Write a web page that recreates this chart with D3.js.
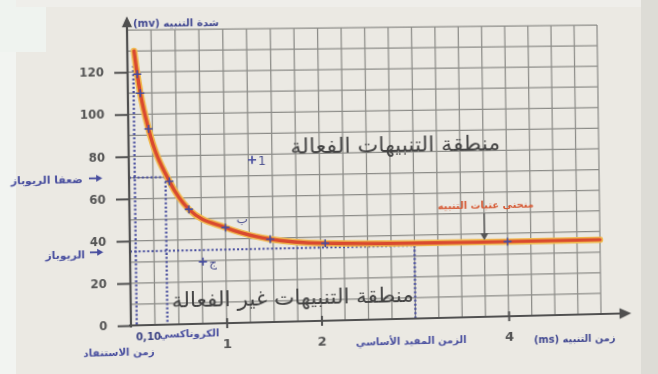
<!DOCTYPE html>
<html>
<head>
<meta charset="utf-8">
<script src="https://cdn.jsdelivr.net/npm/d3@7"></script>
<style>
  html, body { margin: 0; padding: 0; background: #ebe9e3; overflow: hidden; }
  #paper, #chart { position: absolute; left: 0; top: 0; }
  #chart { transform-origin: 0 0; }
  text { font-family: "DejaVu Sans", sans-serif; }
</style>
</head>
<body>
<svg id="paper" width="658" height="374"></svg>
<svg id="chart" width="658" height="374"></svg>
<script>
// ---- data -------------------------------------------------------------
// stimulation threshold curve: duration (ms) -> intensity (mV)
const curveT = [0.07, 0.10, 0.13, 0.21, 0.42, 0.62, 1.00, 1.47, 2.05, 3.00, 4.00, 5.00];
const curveV = [130, 119, 110, 93, 68, 54.5, 45.5, 39.5, 37, 36.2, 36, 36];
// experimental points marked on the curve
const markT = [0.10, 0.13, 0.21, 0.42, 0.62, 1.00, 1.47, 2.05, 4.00];
const markV = [119, 110, 93, 68, 54.5, 45.5, 39.5, 37, 36];
// extra stimulations
const extraT = [1.29, 0.76];
const extraV = [77.5, 29.5];
const extraName = ["1", "ج"];
// characteristic values
const rheobase = 35;
const doubleRheobase = 70;
const chronaxie = 0.38;
const utilTime = 0.06;
const utilTop = 123;
const mainUsefulTime = 3;
// ticks
const yTicks = [0, 20, 40, 60, 80, 100, 120];
const xTicks = [1, 2, 4];

// ---- page background ----------------------------------------------------
const paper = d3.select("#paper");
paper.append("rect").attr("width", 658).attr("height", 374).attr("fill", "#ebe9e3");
paper.append("rect").attr("width", 16).attr("height", 374).attr("fill", "#f2f4f1");
paper.append("rect").attr("width", 46).attr("height", 52).attr("fill", "#eff3ef");
paper.append("rect").attr("x", 16).attr("width", 642).attr("height", 7).attr("fill", "#efeeea");
paper.append("rect").attr("x", 641).attr("width", 17).attr("height", 374).attr("fill", "#dddcd6");

// ---- chart --------------------------------------------------------------
const x = d3.scaleLinear().domain([0, 5]).range([131, 600]);
const y = d3.scaleLinear().domain([0, 140]).range([325, 30]);
const svg = d3.select("#chart");

const blue = "#474d9e";
const gridColor = "#8c8c88";
const axisColor = "#505050";

// grid: 0.25 ms by 10 mV
const grid = svg.append("g");
grid.selectAll("line.v").data(d3.range(1, 21).map(i => i * 0.25)).join("line")
  .attr("class", "v")
  .attr("x1", d => x(d)).attr("x2", d => x(d))
  .attr("y1", y(0)).attr("y2", y(140))
  .attr("stroke", gridColor).attr("stroke-width", 1.25);
grid.selectAll("line.h").data(d3.range(1, 15).map(i => i * 10)).join("line")
  .attr("class", "h")
  .attr("x1", x(0)).attr("x2", x(5))
  .attr("y1", d => y(d)).attr("y2", d => y(d))
  .attr("stroke", gridColor).attr("stroke-width", 1.25);

// dotted reference lines
const dotted = svg.append("g")
  .attr("stroke", blue).attr("stroke-width", 2.2).attr("stroke-dasharray", "2,2.2");
dotted.append("line").attr("x1", x(utilTime)).attr("x2", x(utilTime)).attr("y1", y(utilTop)).attr("y2", y(0));
dotted.append("line").attr("x1", x(0)).attr("x2", x(chronaxie)).attr("y1", y(doubleRheobase)).attr("y2", y(doubleRheobase));
dotted.append("line").attr("x1", x(chronaxie)).attr("x2", x(chronaxie)).attr("y1", y(doubleRheobase)).attr("y2", y(0));
dotted.append("line").attr("x1", x(0)).attr("x2", x(mainUsefulTime)).attr("y1", y(rheobase)).attr("y2", y(rheobase));
dotted.append("line").attr("x1", x(mainUsefulTime)).attr("x2", x(mainUsefulTime)).attr("y1", y(rheobase)).attr("y2", y(0));

// threshold curve
const curveData = curveT.map((t, i) => [t, curveV[i]]);
const line = d3.line().x(d => x(d[0])).y(d => y(d[1])).curve(d3.curveMonotoneX);
svg.append("path").attr("d", line(curveData)).attr("fill", "none")
  .attr("stroke", "#f0b94f").attr("stroke-width", 6.5).attr("stroke-linecap", "round");
svg.append("path").attr("d", line(curveData)).attr("fill", "none")
  .attr("stroke", "#d9492f").attr("stroke-width", 3.4).attr("stroke-linecap", "round");

// crosses
const cross = "M-4,0H4M0,-4V4";
svg.append("g").selectAll("path").data(markT.map((t, i) => [t, markV[i]])).join("path")
  .attr("d", cross).attr("transform", d => `translate(${x(d[0])},${y(d[1])})`)
  .attr("stroke", blue).attr("stroke-width", 1.6).attr("fill", "none");
const extras = svg.append("g").selectAll("g").data(extraT.map((t, i) => [t, extraV[i], extraName[i]])).join("g")
  .attr("transform", d => `translate(${x(d[0])},${y(d[1])})`);
extras.append("path").attr("d", cross).attr("stroke", blue).attr("stroke-width", 1.6).attr("fill", "none");
extras.append("text").attr("x", 6).attr("y", 5).attr("font-size", 12).attr("fill", "#4a4f8e").text(d => d[2]);
// label of the point at 1 ms
svg.append("text").attr("x", x(1.0) + 11).attr("y", y(45.5) - 4)
  .attr("font-size", 12).attr("fill", "#4a4f8e").text("ب");

// axes
const yAxis = d3.axisLeft(y).tickValues(yTicks).tickSize(13).tickPadding(10).tickFormat(d3.format("d"));
const gy = svg.append("g").attr("transform", `translate(${x(0)},0)`).call(yAxis);
const xAxis = d3.axisBottom(x).tickValues(xTicks).tickSize(5).tickPadding(11).tickFormat(d3.format("d"));
const gx = svg.append("g").attr("transform", `translate(0,${y(0)})`).call(xAxis);
[gy, gx].forEach(g => {
  g.select(".domain").remove();
  g.selectAll(".tick line").attr("stroke", axisColor).attr("stroke-width", 2);
  g.selectAll(".tick text").attr("fill", "#555").attr("font-weight", "bold")
    .attr("font-family", "DejaVu Sans, sans-serif");
});
gy.selectAll(".tick text").attr("font-size", 11.5);
gx.selectAll(".tick line").attr("y1", -5);
gx.selectAll(".tick text").attr("font-size", 13);

// axis lines with arrow heads
svg.append("line").attr("x1", x(0)).attr("x2", x(0)).attr("y1", y(0) + 2).attr("y2", y(144))
  .attr("stroke", axisColor).attr("stroke-width", 2.2);
svg.append("line").attr("x1", x(0) - 2).attr("x2", x(5.25)).attr("y1", y(0)).attr("y2", y(0))
  .attr("stroke", axisColor).attr("stroke-width", 2.2);
svg.append("path").attr("d", `M${x(0)},${y(146.5)}l-5,11h10z`).attr("fill", axisColor);
svg.append("path").attr("d", `M${x(5.33)},${y(0)}l-12,-5.5v11z`).attr("fill", axisColor);

// axis titles and annotations (all centred; rtl keeps the latin units on the left)
const label = (tx, ty, txt, opts = {}) => svg.append("text")
  .attr("x", tx).attr("y", ty)
  .attr("text-anchor", "middle")
  .attr("direction", opts.dir || "rtl")
  .attr("font-size", opts.size || 10)
  .attr("font-weight", opts.weight || "bold")
  .attr("fill", opts.color || blue)
  .text(txt);

label(179, 27, "شدة التنبيه (mv)", { color: "#414891" });
label(573, 353, "زمن التنبيه (ms)", { color: "#414891" });
label(408, 351, "الزمن المفيد الأساسي");
label(188, y(0) + 13, "الكروناكسي");
label(148, y(0) + 15, "0,10", { dir: "ltr", color: "#3e4585" });
label(119, y(0) + 30, "زمن الاستنفاد");

// left side markers for the rheobase and its double
label(51, y(doubleRheobase) + 5, "ضعفا الريوباز", { size: 10.5 });
label(68, y(rheobase) + 6, "الريوباز", { size: 10.5 });
[doubleRheobase, rheobase].forEach(v => {
  svg.append("line").attr("x1", 92).attr("x2", 100).attr("y1", y(v)).attr("y2", y(v))
    .attr("stroke", blue).attr("stroke-width", 1.8);
  svg.append("path").attr("d", `M105,${y(v)}l-6,-3.5v7z`).attr("fill", blue);
});

// regions
label(395, 156, "منطقة التنبيهات الفعالة", { size: 21, weight: "normal", color: "#434343" })
  .attr("textLength", 210).attr("lengthAdjust", "spacingAndGlyphs");
label(291, 308, "منطقة التنبيهات غير الفعالة", { size: 21, weight: "normal", color: "#434343" })
  .attr("textLength", 240).attr("lengthAdjust", "spacingAndGlyphs");

// threshold curve caption and pointer
const arrowT = 3.75;
label(x(arrowT) + 2, y(0) - 110, "منحنى عتبات التنبيه", { color: "#d65b36" });
svg.append("line").attr("x1", x(arrowT)).attr("x2", x(arrowT))
  .attr("y1", y(0) - 105).attr("y2", y(36) - 7)
  .attr("stroke", "#555").attr("stroke-width", 1.5);
svg.append("path").attr("d", `M${x(arrowT)},${y(36) - 2}l-4,-7h8z`).attr("fill", "#555");

// ---- slight perspective of the page ------------------------------------
function solve(A, b) {
  const n = b.length;
  for (let i = 0; i < n; i++) {
    let p = i;
    for (let r = i + 1; r < n; r++) if (Math.abs(A[r][i]) > Math.abs(A[p][i])) p = r;
    [A[i], A[p]] = [A[p], A[i]]; [b[i], b[p]] = [b[p], b[i]];
    for (let r = i + 1; r < n; r++) {
      const f = A[r][i] / A[i][i];
      for (let c = i; c < n; c++) A[r][c] -= f * A[i][c];
      b[r] -= f * b[i];
    }
  }
  const out = new Array(n);
  for (let i = n - 1; i >= 0; i--) {
    let s = b[i];
    for (let c = i + 1; c < n; c++) s -= A[i][c] * out[c];
    out[i] = s / A[i][i];
  }
  return out;
}
function homography(src, dst) {
  const A = [], b = [];
  for (let i = 0; i < 4; i++) {
    const [sx, sy] = src[i], [dx, dy] = dst[i];
    A.push([sx, sy, 1, 0, 0, 0, -sx * dx, -sy * dx]); b.push(dx);
    A.push([0, 0, 0, sx, sy, 1, -sx * dy, -sy * dy]); b.push(dy);
  }
  const h = solve(A, b);
  return [h[0], h[3], 0, h[6], h[1], h[4], 0, h[7], 0, 0, 1, 0, h[2], h[5], 0, 1];
}
const gridCorners = [[x(0), y(0)], [x(5), y(0)], [x(0), y(140)], [x(5), y(140)]];
const pageCorners = [[131, 325.5], [601, 314], [127, 30], [597, 25]];
const m = homography(gridCorners, pageCorners);
document.getElementById("chart").style.transform = `matrix3d(${m.join(",")})`;
</script>
</body>
</html>
